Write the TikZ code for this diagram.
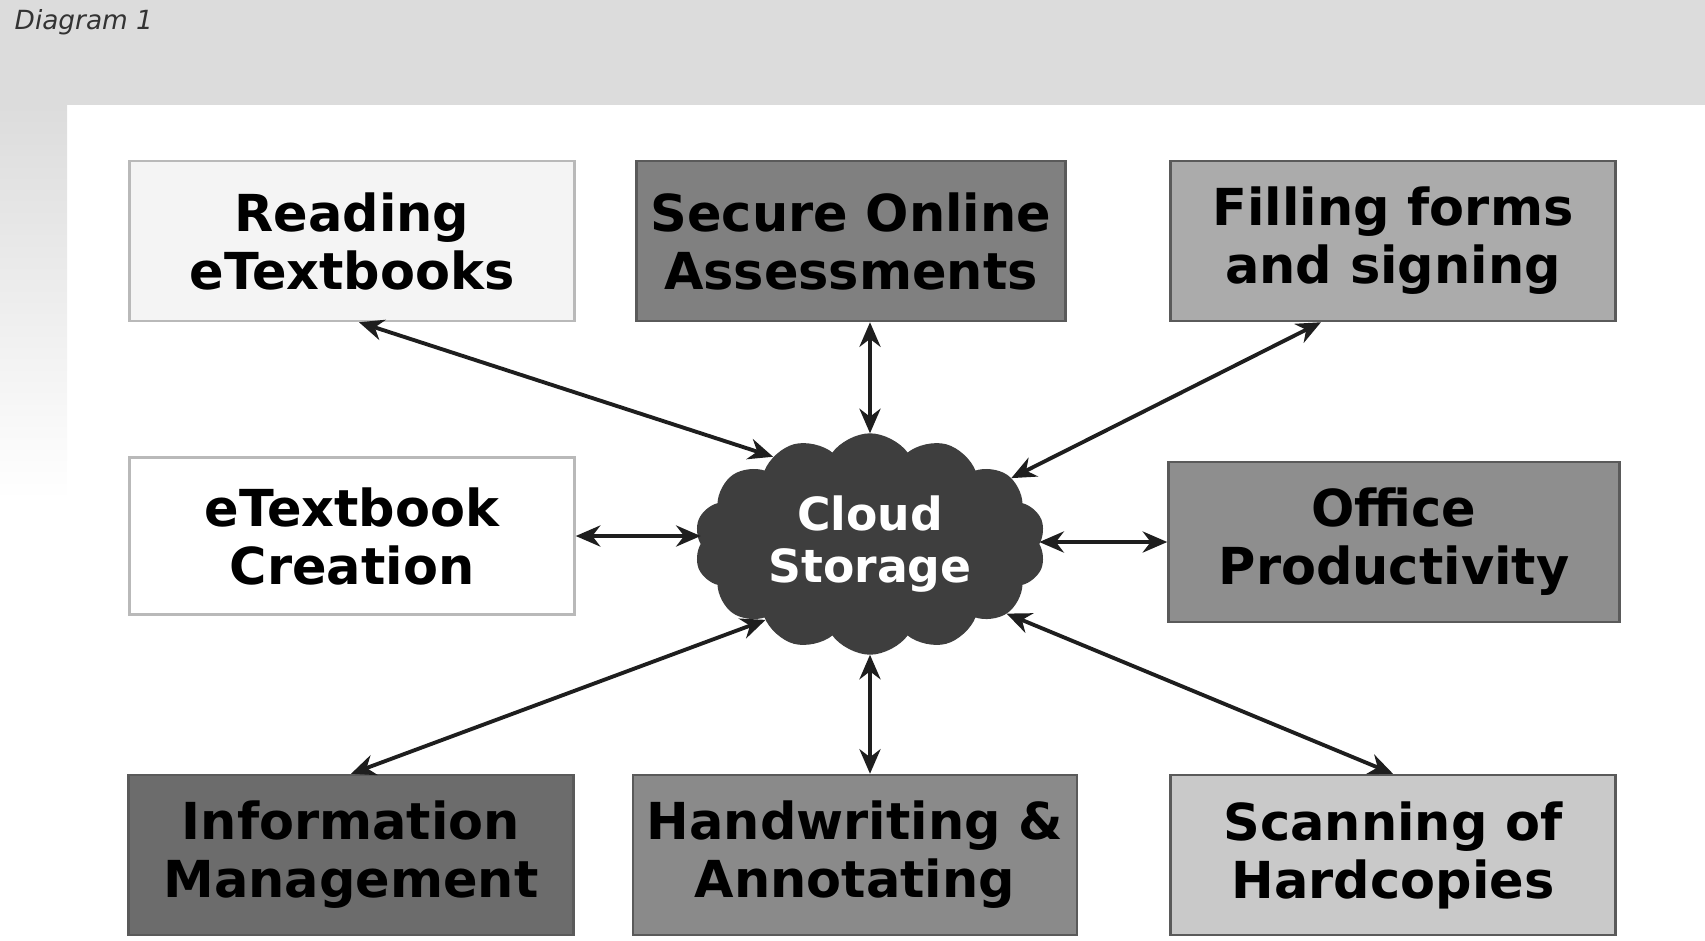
\documentclass[tikz,border=0pt]{standalone}
\usepackage{fontspec}
\setmainfont{DejaVu Sans}
\usepackage{xcolor}
\usetikzlibrary{arrows.meta, shapes.symbols, calc}
\definecolor{Stipple}    {HTML}{DCDCDC}
\definecolor{ReadFill}   {HTML}{F4F4F4}
\definecolor{SecureFill} {HTML}{808080}
\definecolor{FormFill}   {HTML}{ABABAB}
\definecolor{OfficeFill} {HTML}{8E8E8E}
\definecolor{InfoFill}   {HTML}{6C6C6C}
\definecolor{HandFill}   {HTML}{8A8A8A}
\definecolor{ScanFill}   {HTML}{C9C9C9}
\definecolor{CloudFill}  {HTML}{3E3E3E}
\definecolor{EdgeGray}   {HTML}{5A5A5A}
\definecolor{LinkGray}   {HTML}{1E1E1E}
\tikzset{
  task/.style={
    draw=EdgeGray, line width=0.7pt,
    minimum width=4.45cm, minimum height=1.6cm,
    align=center, inner sep=4pt,
    font=\fontsize{14.5}{16.5}\selectfont\bfseries,
  },
  lighttask/.style={task, draw=gray!55},
  store/.style={
    cloud, cloud puffs=14, cloud puff arc=110, aspect=1.6, inner sep=0pt,
    minimum width=3.5cm, minimum height=2.2cm,
    fill=CloudFill, draw=CloudFill, text=white, align=center,
    font=\fontsize{13}{15}\selectfont\bfseries,
  },
  link/.style={
    {Stealth[length=7pt,width=6pt]}-{Stealth[length=7pt,width=6pt]},
    color=LinkGray, line width=1.1pt,
  },
  caption/.style={
    font=\fontsize{7.5}{9}\selectfont\itshape, text=gray!40!black, inner sep=0pt,
  },
}

\begin{document}
\begin{tikzpicture}
\useasboundingbox (0,0) rectangle (17.05,-9.40);

% ── Page stipple ──────────────────────────────────────────────────────────
\fill[Stipple] (0,0) rectangle (17.05,-1.05);
\shade[top color=Stipple, bottom color=white] (0,-1.05) rectangle (0.67,-5.0);
\node[caption, anchor=west] (TITLE) at (0.14,-0.22) {Diagram 1};

% ── Nodes ─────────────────────────────────────────────────────────────────
% top row
\node[lighttask, fill=ReadFill]   (READ)   at ( 3.52,-2.41) {Reading\\eTextbooks};
\node[task, fill=SecureFill, minimum width=4.24cm]
                                  (SECURE) at ( 8.51,-2.41) {Secure Online\\Assessments};
\node[task, fill=FormFill]        (FORMS)  at (13.93,-2.41) {Filling forms\\and signing};
% middle row
\node[lighttask, fill=white, minimum height=1.57cm]
                                  (CREATE) at ( 3.52,-5.36) {eTextbook\\Creation};
\node[store]                      (CLOUD)  at ( 8.70,-5.44) {Cloud\\Storage};
\node[task, fill=OfficeFill, minimum width=4.51cm]
                                  (OFFICE) at (13.94,-5.42) {Office\\Productivity};
% bottom row
\node[task, fill=InfoFill]        (INFO)   at ( 3.51,-8.55) {Information\\Management};
\node[task, fill=HandFill, minimum width=4.22cm]
                                  (HAND)   at ( 8.55,-8.55) {Handwriting \&\\Annotating};
\node[task, fill=ScanFill]        (SCAN)   at (13.93,-8.55) {Scanning of\\Hardcopies};

% ── Links to the cloud ────────────────────────────────────────────────────
\draw[link] ($(READ.south)+(0.07,0)$) -- (CLOUD.138);
\draw[link] (SECURE.south -| CLOUD.north) -- (CLOUD.north);
\draw[link] ($(FORMS.south)+(-0.72,0)$) -- (CLOUD.25);
\draw[link] (CREATE.east) -- (CREATE.east -| CLOUD.west);
\draw[link] (OFFICE.west) -- (OFFICE.west -| CLOUD.east);
\draw[link] (INFO.north) -- (CLOUD.216);
\draw[link] (CLOUD.south) -- (CLOUD.south |- HAND.north);
\draw[link] (CLOUD.333) -- (SCAN.north);

\end{tikzpicture}
\end{document}
